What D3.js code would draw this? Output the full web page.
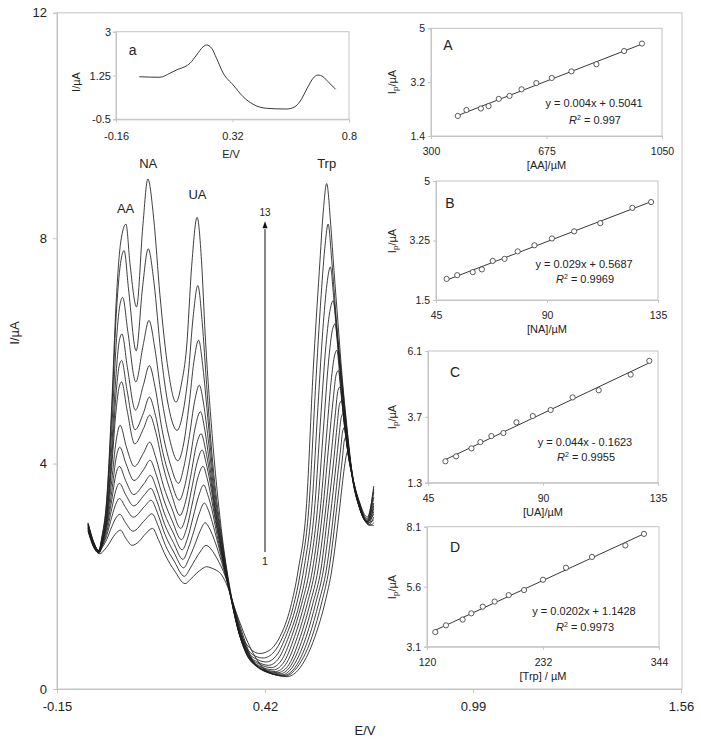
<!DOCTYPE html>
<html><head><meta charset="utf-8">
<script src="https://cdn.jsdelivr.net/npm/d3@7"></script>
<style>
body{margin:0;background:#fff}
svg text{font-family:"Liberation Sans",Arial,Helvetica,sans-serif;fill:#222}
</style>
</head><body>
<svg id="c" width="701" height="742"></svg>
<script>
// ---------------- DATA ----------------
// main chart ticks
const mainXTicks = [-0.15, 0.42, 0.99, 1.56];
const mainYTicks = [0, 4, 8, 12];
// 13 DPV curves: [E (V), I (µA)]
const curve1 = [[-0.065,2.80],[-0.050,2.52],[-0.032,2.40],[-0.020,2.47],[-0.008,2.57],[0.004,2.70],[0.014,2.78],[0.024,2.82],[0.038,2.68],[0.056,2.55],[0.075,2.62],[0.092,2.75],[0.112,2.85],[0.128,2.65],[0.148,2.36],[0.172,2.10],[0.201,1.87],[0.216,1.95],[0.232,2.05],[0.247,2.13],[0.260,2.17],[0.272,2.15],[0.286,2.11],[0.298,2.05],[0.312,1.90],[0.342,1.34],[0.370,0.87],[0.395,0.55],[0.430,0.30],[0.480,0.22],[0.510,0.33],[0.557,0.93],[0.585,1.55],[0.603,2.11],[0.626,3.29],[0.633,3.70],[0.639,4.00],[0.644,4.18],[0.648,4.24],[0.654,3.95],[0.660,3.75],[0.666,3.60],[0.672,3.45],[0.680,3.28],[0.692,3.03],[0.706,2.90],[0.718,2.95]];
const curve2 = [[-0.065,2.82],[-0.050,2.53],[-0.035,2.41],[-0.027,2.50],[-0.014,2.65],[0.000,2.88],[0.011,3.03],[0.022,3.10],[0.038,2.95],[0.058,2.80],[0.091,3.00],[0.110,3.11],[0.127,2.90],[0.147,2.55],[0.171,2.27],[0.199,2.00],[0.214,2.13],[0.229,2.30],[0.244,2.45],[0.258,2.55],[0.270,2.50],[0.281,2.40],[0.294,2.25],[0.310,2.02],[0.335,1.47],[0.360,0.95],[0.385,0.53],[0.425,0.30],[0.476,0.23],[0.501,0.33],[0.549,0.93],[0.576,1.55],[0.595,2.11],[0.618,3.29],[0.627,3.80],[0.633,4.15],[0.637,4.40],[0.642,4.47],[0.648,4.15],[0.654,3.92],[0.661,3.72],[0.668,3.52],[0.676,3.32],[0.689,3.05],[0.705,2.92],[0.718,3.05]];
const curve3 = [[-0.065,2.83],[-0.050,2.54],[-0.035,2.42],[-0.027,2.52],[-0.014,2.72],[0.000,3.05],[0.011,3.28],[0.021,3.38],[0.038,3.22],[0.059,3.05],[0.090,3.24],[0.108,3.35],[0.125,3.13],[0.146,2.74],[0.170,2.43],[0.197,2.15],[0.212,2.32],[0.227,2.55],[0.242,2.80],[0.256,2.95],[0.267,2.86],[0.278,2.70],[0.292,2.44],[0.309,2.08],[0.332,1.52],[0.357,0.96],[0.382,0.54],[0.420,0.31],[0.471,0.24],[0.497,0.34],[0.541,0.93],[0.568,1.55],[0.588,2.11],[0.611,3.29],[0.621,3.90],[0.628,4.30],[0.633,4.58],[0.639,4.65],[0.645,4.30],[0.651,4.05],[0.658,3.82],[0.666,3.58],[0.674,3.36],[0.688,3.06],[0.704,2.93],[0.718,2.90]];
const curve4 = [[-0.065,2.85],[-0.050,2.55],[-0.035,2.42],[-0.027,2.53],[-0.014,2.78],[0.000,3.20],[0.011,3.52],[0.021,3.65],[0.038,3.45],[0.060,3.25],[0.089,3.44],[0.107,3.56],[0.124,3.33],[0.145,2.92],[0.169,2.60],[0.195,2.30],[0.210,2.50],[0.225,2.80],[0.240,3.12],[0.254,3.30],[0.265,3.17],[0.276,2.95],[0.291,2.58],[0.308,2.14],[0.330,1.55],[0.355,0.97],[0.380,0.55],[0.420,0.32],[0.466,0.25],[0.492,0.36],[0.533,0.93],[0.560,1.55],[0.580,2.11],[0.603,3.29],[0.615,4.00],[0.623,4.50],[0.629,4.82],[0.635,4.89],[0.641,4.50],[0.647,4.20],[0.655,3.92],[0.663,3.65],[0.672,3.40],[0.686,3.08],[0.703,2.94],[0.718,3.15]];
const curve5 = [[-0.065,2.86],[-0.050,2.56],[-0.035,2.43],[-0.027,2.55],[-0.014,2.85],[0.000,3.35],[0.011,3.80],[0.021,3.95],[0.038,3.70],[0.060,3.45],[0.089,3.65],[0.106,3.79],[0.123,3.55],[0.144,3.12],[0.168,2.78],[0.193,2.47],[0.208,2.68],[0.223,3.05],[0.238,3.42],[0.252,3.62],[0.263,3.45],[0.274,3.20],[0.289,2.72],[0.307,2.20],[0.329,1.58],[0.353,0.97],[0.378,0.55],[0.415,0.34],[0.461,0.27],[0.487,0.38],[0.525,0.93],[0.552,1.54],[0.573,2.11],[0.595,3.29],[0.609,4.10],[0.618,4.70],[0.624,5.05],[0.630,5.12],[0.637,4.70],[0.644,4.35],[0.652,4.02],[0.661,3.72],[0.670,3.45],[0.685,3.10],[0.702,2.95],[0.718,3.00]];
const curve6 = [[-0.065,2.87],[-0.050,2.56],[-0.035,2.43],[-0.027,2.56],[-0.014,2.90],[0.000,3.50],[0.012,4.10],[0.022,4.29],[0.039,4.00],[0.061,3.70],[0.088,3.90],[0.105,4.06],[0.122,3.80],[0.143,3.35],[0.166,2.98],[0.191,2.65],[0.206,2.87],[0.221,3.30],[0.236,3.75],[0.250,3.95],[0.261,3.75],[0.272,3.42],[0.288,2.85],[0.306,2.25],[0.328,1.60],[0.352,0.97],[0.375,0.55],[0.410,0.36],[0.455,0.29],[0.482,0.40],[0.517,0.93],[0.544,1.53],[0.565,2.11],[0.588,3.29],[0.602,4.20],[0.613,4.90],[0.620,5.30],[0.626,5.36],[0.634,4.90],[0.641,4.50],[0.650,4.15],[0.659,3.80],[0.668,3.50],[0.684,3.12],[0.702,2.96],[0.718,3.25]];
const curve7 = [[-0.065,2.88],[-0.050,2.57],[-0.035,2.44],[-0.027,2.58],[-0.014,2.95],[0.000,3.70],[0.012,4.40],[0.023,4.68],[0.040,4.30],[0.062,3.95],[0.088,4.20],[0.104,4.38],[0.121,4.10],[0.142,3.60],[0.165,3.20],[0.189,2.85],[0.204,3.08],[0.219,3.55],[0.234,4.02],[0.248,4.24],[0.259,4.00],[0.270,3.65],[0.286,2.98],[0.305,2.32],[0.327,1.62],[0.350,0.97],[0.375,0.55],[0.410,0.38],[0.449,0.31],[0.476,0.43],[0.509,0.93],[0.536,1.52],[0.557,2.11],[0.580,3.29],[0.595,4.35],[0.607,5.15],[0.615,5.58],[0.621,5.65],[0.629,5.20],[0.637,4.75],[0.646,4.35],[0.656,3.95],[0.666,3.55],[0.683,3.14],[0.700,2.97],[0.718,3.10]];
const curve8 = [[-0.065,2.90],[-0.050,2.58],[-0.035,2.44],[-0.027,2.60],[-0.014,3.00],[0.000,3.95],[0.012,4.95],[0.020,5.35],[0.027,5.45],[0.042,4.95],[0.063,4.35],[0.087,4.62],[0.104,4.86],[0.121,4.55],[0.141,3.95],[0.164,3.45],[0.187,3.08],[0.202,3.32],[0.217,3.80],[0.231,4.30],[0.245,4.53],[0.257,4.25],[0.268,3.85],[0.285,3.10],[0.304,2.38],[0.326,1.64],[0.350,0.96],[0.375,0.56],[0.405,0.41],[0.443,0.34],[0.470,0.46],[0.501,0.93],[0.528,1.51],[0.550,2.11],[0.573,3.29],[0.588,4.45],[0.601,5.45],[0.611,5.93],[0.617,6.01],[0.625,5.55],[0.633,5.05],[0.643,4.55],[0.653,4.08],[0.664,3.60],[0.682,3.16],[0.700,2.97],[0.718,3.40]];
const curve9 = [[-0.065,2.91],[-0.050,2.59],[-0.035,2.45],[-0.027,2.62],[-0.014,3.05],[0.000,4.10],[0.012,5.25],[0.020,5.72],[0.027,5.83],[0.042,5.30],[0.064,4.60],[0.087,4.90],[0.103,5.18],[0.120,4.85],[0.140,4.20],[0.162,3.70],[0.185,3.35],[0.200,3.60],[0.215,4.10],[0.229,4.65],[0.243,4.92],[0.255,4.60],[0.266,4.10],[0.283,3.25],[0.303,2.45],[0.325,1.66],[0.350,0.96],[0.375,0.58],[0.405,0.44],[0.437,0.38],[0.464,0.50],[0.493,0.93],[0.520,1.50],[0.542,2.11],[0.565,3.29],[0.580,4.60],[0.594,5.80],[0.605,6.38],[0.612,6.48],[0.621,5.95],[0.630,5.35],[0.640,4.75],[0.650,4.22],[0.662,3.66],[0.680,3.20],[0.700,2.98],[0.718,3.20]];
const curve10 = [[-0.065,2.92],[-0.050,2.60],[-0.035,2.45],[-0.027,2.64],[-0.014,3.10],[0.000,4.30],[0.012,5.60],[0.020,6.15],[0.028,6.30],[0.043,5.70],[0.065,4.95],[0.087,5.40],[0.103,5.74],[0.119,5.35],[0.138,4.60],[0.160,4.00],[0.183,3.65],[0.198,3.95],[0.213,4.50],[0.227,5.10],[0.240,5.39],[0.252,5.05],[0.264,4.45],[0.281,3.45],[0.302,2.55],[0.325,1.68],[0.350,0.97],[0.375,0.60],[0.400,0.48],[0.430,0.42],[0.458,0.55],[0.485,0.93],[0.513,1.48],[0.534,2.11],[0.557,3.29],[0.572,4.75],[0.587,6.10],[0.599,6.75],[0.607,6.89],[0.616,6.35],[0.625,5.75],[0.635,5.10],[0.648,4.35],[0.660,3.72],[0.680,3.22],[0.700,2.98],[0.718,3.50]];
const curve11 = [[-0.065,2.93],[-0.050,2.60],[-0.035,2.46],[-0.027,2.66],[-0.014,3.20],[0.000,4.60],[0.012,6.10],[0.022,6.80],[0.030,6.95],[0.044,6.35],[0.066,5.45],[0.086,6.10],[0.102,6.54],[0.118,6.05],[0.136,5.20],[0.158,4.45],[0.181,4.05],[0.197,4.35],[0.212,5.05],[0.225,5.80],[0.238,6.19],[0.250,5.70],[0.262,4.90],[0.279,3.70],[0.300,2.68],[0.325,1.70],[0.350,0.98],[0.375,0.64],[0.400,0.52],[0.423,0.48],[0.452,0.60],[0.477,0.93],[0.505,1.47],[0.526,2.11],[0.549,3.29],[0.565,5.00],[0.580,6.50],[0.591,7.25],[0.599,7.49],[0.609,6.90],[0.620,6.15],[0.630,5.45],[0.645,4.52],[0.658,3.80],[0.680,3.24],[0.700,3.00],[0.718,3.30]];
const curve12 = [[-0.065,2.94],[-0.050,2.61],[-0.035,2.46],[-0.027,2.68],[-0.014,3.30],[0.000,4.90],[0.012,6.60],[0.024,7.55],[0.034,7.78],[0.046,7.10],[0.067,6.00],[0.084,7.10],[0.100,7.81],[0.116,7.20],[0.134,6.00],[0.156,5.00],[0.179,4.59],[0.195,4.90],[0.210,5.60],[0.223,6.60],[0.236,7.16],[0.248,6.50],[0.260,5.40],[0.277,4.00],[0.300,2.75],[0.325,1.72],[0.350,1.00],[0.375,0.68],[0.395,0.58],[0.415,0.55],[0.445,0.66],[0.469,0.93],[0.497,1.45],[0.518,2.11],[0.541,3.29],[0.558,5.30],[0.574,7.00],[0.585,7.90],[0.593,8.25],[0.603,7.60],[0.615,6.60],[0.630,5.55],[0.645,4.58],[0.658,3.84],[0.680,3.27],[0.700,3.02],[0.718,3.60]];
const curve13 = [[-0.065,2.95],[-0.050,2.62],[-0.036,2.45],[-0.027,2.70],[-0.014,3.35],[0.000,5.05],[0.012,6.85],[0.025,7.95],[0.039,8.25],[0.050,7.55],[0.068,6.78],[0.085,8.20],[0.099,9.05],[0.115,8.35],[0.132,7.00],[0.155,5.65],[0.176,5.09],[0.192,5.45],[0.205,6.05],[0.219,7.50],[0.234,8.37],[0.246,7.60],[0.256,6.30],[0.275,4.53],[0.300,2.85],[0.325,1.75],[0.350,1.03],[0.375,0.75],[0.406,0.63],[0.435,0.70],[0.461,0.93],[0.490,1.45],[0.511,2.11],[0.534,3.29],[0.552,5.65],[0.569,7.43],[0.580,8.50],[0.589,8.97],[0.600,8.25],[0.609,7.43],[0.620,6.50],[0.630,5.65],[0.645,4.62],[0.658,3.88],[0.680,3.30],[0.700,3.05],[0.718,3.55]];
const curves = [curve1,curve2,curve3,curve4,curve5,curve6,curve7,curve8,curve9,curve10,curve11,curve12,curve13];

// inset (a): blank curve
const insetE = [-0.064,0.021,0.062,0.096,0.124,0.145,0.172,0.199,0.213,0.234,0.254,0.282,0.323,0.364,0.405,0.460,0.542,0.577,0.597,0.631,0.652,0.672,0.693,0.714,0.745];
const insetI = [1.20,1.18,1.34,1.50,1.60,1.74,2.07,2.40,2.47,2.34,1.94,1.34,0.87,0.40,0.10,-0.06,-0.09,0.00,0.20,0.80,1.14,1.27,1.20,1.00,0.70];
const insetXTicks = [-0.16, 0.32, 0.8];
const insetYTicks = [-0.5, 1.25, 3];

// calibration panels
const aaConc = [387,415,462,487,520,555,594,642,692,756,837,927,985];
const aaIp   = [2.07,2.27,2.32,2.40,2.64,2.74,2.96,3.17,3.34,3.56,3.80,4.24,4.49];
const naConc = [49.3,53.6,59.9,63.6,68.0,72.8,78.1,84.9,92.0,101.0,111.6,124.6,132.2];
const naIp   = [2.12,2.23,2.32,2.40,2.65,2.71,2.93,3.11,3.31,3.52,3.76,4.21,4.38];
const uaConc = [51.8,56.0,62.0,65.5,69.8,74.5,79.6,86.0,93.0,101.6,111.8,124.3,131.6];
const uaIp   = [2.08,2.26,2.55,2.78,3.00,3.11,3.50,3.73,3.95,4.41,4.67,5.24,5.74];
const trpConc = [128.0,138.3,154.4,162.8,173.8,185.3,198.9,213.7,232.0,254.2,279.3,311.5,329.5];
const trpIp   = [3.71,3.99,4.23,4.49,4.77,4.98,5.25,5.46,5.89,6.39,6.84,7.32,7.80];
const aaXTicks = [300,675,1050], aaYTicks = [1.4,3.2,5];
const naXTicks = [45,90,135],    naYTicks = [1.5,3.25,5];
const uaXTicks = [45,90,135],    uaYTicks = [1.3,3.7,6.1];
const trpXTicks = [120,232,344], trpYTicks = [3.1,5.6,8.1];
const equations = ["y = 0.004x + 0.5041","y = 0.029x + 0.5687","y = 0.044x - 0.1623","y = 0.0202x + 1.1428"];
const r2Values = ["0.997","0.9969","0.9955","0.9973"];
const xTitles = ["[AA]/µM","[NA]/µM","[UA]/µM","[Trp] / µM"];
const panelLetters = ["A","B","C","D"];

// ---------------- DRAWING ----------------
const svg = d3.select("#c");
const GRAY = "#c4c4c4";
function styleAxis(g, fs){
  g.select(".domain").attr("stroke", GRAY);
  g.selectAll(".tick line").attr("stroke", GRAY);
  g.selectAll(".tick text").attr("fill","#222").attr("font-size", fs)
   .attr("font-family",'"Liberation Sans",Arial,sans-serif');
}
const fmt = d => String(d);

// main plot
const x = d3.scaleLinear().domain([-0.15,1.56]).range([57,681]);
const y = d3.scaleLinear().domain([0,12]).range([689,12.8]);
svg.append("rect").attr("x",x(-0.15)).attr("y",y(12)).attr("width",x(1.56)-x(-0.15)+1).attr("height",y(0)-y(12))
  .attr("fill","#fff").attr("stroke",GRAY);
svg.append("g").attr("transform",`translate(0,${y(0)})`)
  .call(d3.axisBottom(x).tickValues(mainXTicks).tickSize(4).tickPadding(9).tickFormat(fmt))
  .call(g=>styleAxis(g,13));
svg.append("g").attr("transform",`translate(${x(-0.15)},0)`)
  .call(d3.axisLeft(y).tickValues(mainYTicks).tickSize(4).tickPadding(6).tickFormat(fmt))
  .call(g=>styleAxis(g,13));
svg.append("text").attr("x",365).attr("y",734.5).attr("text-anchor","middle").attr("font-size",13).text("E/V");
svg.append("text").attr("transform","translate(19,333) rotate(-90)").attr("text-anchor","middle").attr("font-size",13).text("I/µA");

const line = d3.line().x(d=>x(d[0])).y(d=>y(d[1])).curve(d3.curveMonotoneX);
svg.append("g").selectAll("path").data(curves).join("path")
  .attr("d", line).attr("fill","none").attr("stroke","#1c1c1c").attr("stroke-width",0.85);

// peak labels
[["AA",0.038,8.45],["NA",0.100,9.25],["UA",0.235,8.70],["Trp",0.589,9.25]].forEach(([t,e,i])=>{
  svg.append("text").attr("x",x(e)).attr("y",y(i)).attr("text-anchor","middle").attr("font-size",13).text(t);
});
// arrow 1 -> 13
const ax0 = x(0.42);
svg.append("line").attr("x1",ax0).attr("x2",ax0).attr("y1",y(2.43)).attr("y2",y(8.16)).attr("stroke","#111").attr("stroke-width",1);
svg.append("path").attr("d",`M${ax0},${y(8.30)} L${ax0-2.5},${y(8.30)+7} L${ax0+2.5},${y(8.30)+7} Z`).attr("fill","#111");
svg.append("text").attr("x",ax0).attr("y",y(8.46)+3.6).attr("text-anchor","middle").attr("font-size",10).text("13");
svg.append("text").attr("x",ax0).attr("y",y(2.26)+3.8).attr("text-anchor","middle").attr("font-size",10.5).text("1");

// inset a
const ix = d3.scaleLinear().domain([-0.16,0.8]).range([116,349]);
const iy = d3.scaleLinear().domain([-0.5,3]).range([119.3,31.7]);
svg.append("rect").attr("x",116).attr("y",31.7).attr("width",233).attr("height",87.6).attr("fill","#fff").attr("stroke",GRAY);
svg.append("g").attr("transform",`translate(0,${iy(-0.5)})`)
  .call(d3.axisBottom(ix).tickValues(insetXTicks).tickSize(3).tickPadding(9.5).tickFormat(fmt))
  .call(g=>styleAxis(g,11));
svg.append("g").attr("transform",`translate(${ix(-0.16)},0)`)
  .call(d3.axisLeft(iy).tickValues(insetYTicks).tickSize(3).tickPadding(2).tickFormat(fmt))
  .call(g=>styleAxis(g,11));
svg.append("path").datum(insetE.map((e,i)=>[e,insetI[i]]))
  .attr("d", d3.line().x(d=>ix(d[0])).y(d=>iy(d[1])).curve(d3.curveMonotoneX))
  .attr("fill","none").attr("stroke","#222").attr("stroke-width",0.9);
svg.append("text").attr("x",132.7).attr("y",54.5).attr("text-anchor","middle").attr("font-size",14).text("a");
svg.append("text").attr("x",231).attr("y",158).attr("text-anchor","middle").attr("font-size",11).text("E/V");
svg.append("text").attr("transform","translate(80,82) rotate(-90)").attr("text-anchor","middle").attr("font-size",11).text("I/µA");

// calibration panels
const panels = [
  {xs:aaConc, ys:aaIp, xd:[300,1050], yd:[1.4,5], xt:aaXTicks, yt:aaYTicks, l:431,r:662,t:28.3,b:136, lx:448,ly:45, ex:594,ey:103,ry:120, yc:82},
  {xs:naConc, ys:naIp, xd:[45,135], yd:[1.5,5], xt:naXTicks, yt:naYTicks, l:436,r:658,t:181,b:300, lx:450,ly:203, ex:584,ey:264,ry:279, yc:241},
  {xs:uaConc, ys:uaIp, xd:[45,135], yd:[1.3,6.1], xt:uaXTicks, yt:uaYTicks, l:428,r:658,t:351,b:482.7, lx:455,ly:372, ex:585,ey:442,ry:457, yc:417},
  {xs:trpConc, ys:trpIp, xd:[120,344], yd:[3.1,8.1], xt:trpXTicks, yt:trpYTicks, l:427,r:659,t:526.7,b:646.7, lx:455,ly:547, ex:584,ey:611,ry:627, yc:587}
];
panels.forEach((p,k)=>{
  const px = d3.scaleLinear().domain(p.xd).range([p.l,p.r]);
  const py = d3.scaleLinear().domain(p.yd).range([p.b,p.t]);
  const g = svg.append("g");
  g.append("rect").attr("x",p.l).attr("y",p.t).attr("width",p.r-p.l).attr("height",p.b-p.t).attr("fill","#fff").attr("stroke",GRAY);
  g.append("g").attr("transform",`translate(0,${p.b})`)
    .call(d3.axisBottom(px).tickValues(p.xt).tickSize(3).tickPadding(9).tickFormat(fmt)).call(a=>styleAxis(a,10.5));
  g.append("g").attr("transform",`translate(${p.l},0)`)
    .call(d3.axisLeft(py).tickValues(p.yt).tickSize(3).tickPadding(3).tickFormat(fmt)).call(a=>styleAxis(a,10.5));
  // least-squares trend line of the plotted points
  const mx = d3.mean(p.xs), my = d3.mean(p.ys);
  let sxy=0, sxx=0;
  p.xs.forEach((v,i)=>{ sxy+=(v-mx)*(p.ys[i]-my); sxx+=(v-mx)*(v-mx); });
  const slope = sxy/sxx, icpt = my - slope*mx;
  const [x0,x1] = d3.extent(p.xs);
  g.append("line").attr("x1",px(x0)).attr("y1",py(slope*x0+icpt)).attr("x2",px(x1)).attr("y2",py(slope*x1+icpt))
    .attr("stroke","#222").attr("stroke-width",0.9);
  g.selectAll("circle").data(p.xs.map((v,i)=>[v,p.ys[i]])).join("circle")
    .attr("cx",d=>px(d[0])).attr("cy",d=>py(d[1])).attr("r",2.6)
    .attr("fill","#fff").attr("stroke","#333").attr("stroke-width",0.8);
  g.append("text").attr("x",p.lx).attr("y",p.ly+5).attr("text-anchor","middle").attr("font-size",14).text(panelLetters[k]);
  g.append("text").attr("x",p.ex).attr("y",p.ey+4).attr("text-anchor","middle").attr("font-size",11).text(equations[k]);
  const rt = g.append("text").attr("x",p.ex+1).attr("y",p.ry+4).attr("text-anchor","middle").attr("font-size",11);
  rt.append("tspan").attr("font-style","italic").text("R");
  rt.append("tspan").attr("font-size",7).attr("dy",-4).text("2");
  rt.append("tspan").attr("dy",4).text(" = " + r2Values[k]);
  g.append("text").attr("x",(p.l+p.r)/2).attr("y",p.b+33).attr("text-anchor","middle").attr("font-size",11).text(xTitles[k]);
  const yt = g.append("text").attr("transform",`translate(396,${p.yc}) rotate(-90)`).attr("text-anchor","middle").attr("font-size",11);
  yt.append("tspan").text("I");
  yt.append("tspan").attr("font-size",8).attr("dy",2).text("p");
  yt.append("tspan").attr("dy",-2).text("/µA");
});
</script>
</body></html>
